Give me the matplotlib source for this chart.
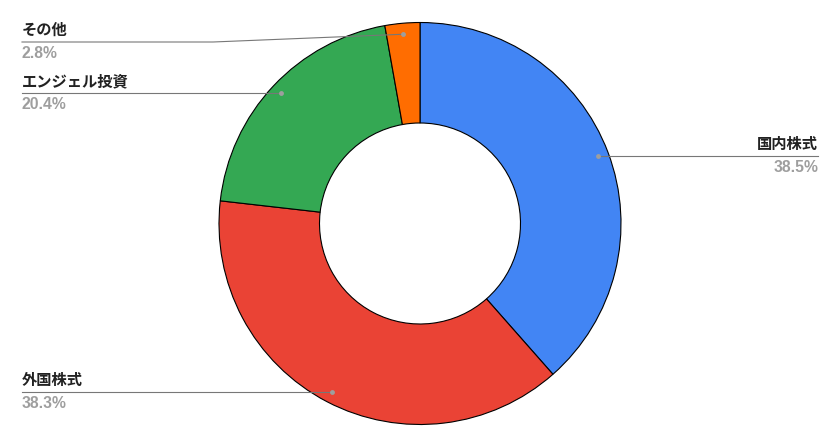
import numpy as np
import matplotlib.pyplot as plt

# ====== data ======
labels = ["国内株式", "外国株式", "エンジェル投資", "その他"]
values = [38.5, 38.3, 20.4, 2.8]
colors = ["#4285F4", "#EA4335", "#34A853", "#FF6D01"]

W, H = 840, 447
cx, cy = 420, 223.5
r_out = 201
r_in = 100.5
r_dot = 190

fig = plt.figure(figsize=(W / 100, H / 100), dpi=100)
ax = fig.add_axes([0, 0, 1, 1])

wedges, _ = ax.pie(values, colors=colors, startangle=90, counterclock=False,
                   radius=r_out, center=(cx, cy),
                   wedgeprops=dict(width=r_out - r_in, edgecolor="black", linewidth=0.8))

ax.set_xlim(0, W)
ax.set_ylim(0, H)
ax.set_aspect("equal")
ax.axis("off")

lab_font = ["Noto Sans CJK JP", "DejaVu Sans"]
pct_font = ["Liberation Sans", "DejaVu Sans"]
x_left, x_right = 22, 818
top_limit = H - 42   # highest a leader line may sit
bend_x = 213

for w, lab, v in zip(wedges, labels, values):
    mid = np.deg2rad((w.theta1 + w.theta2) / 2)
    dx = cx + r_dot * np.cos(mid)
    dy = cy + r_dot * np.sin(mid)
    ly = min(dy, top_limit)
    left = np.cos(mid) < 0

    if left:
        if ly != dy:
            ax.plot([x_left, bend_x, dx], [ly, ly, dy], color="#777777", lw=0.8)
        else:
            ax.plot([x_left, dx], [ly, ly], color="#777777", lw=0.8)
        tx, ha = x_left, "left"
    else:
        ax.plot([dx, x_right], [ly, ly], color="#777777", lw=0.8)
        tx, ha = x_right, "right"
    ax.plot(dx, dy, "o", color="#9e9e9e", ms=3.5, mec="none")

    ax.text(tx, ly + 4, lab, ha=ha, va="bottom", fontsize=11, fontweight="bold",
            color="#222222", family=lab_font)
    ax.text(tx, ly - 4, f"{v}%", ha=ha, va="top", fontsize=11.3, fontweight="bold",
            color="#9e9e9e", family=pct_font)

fig.savefig("out.png", dpi=100)
